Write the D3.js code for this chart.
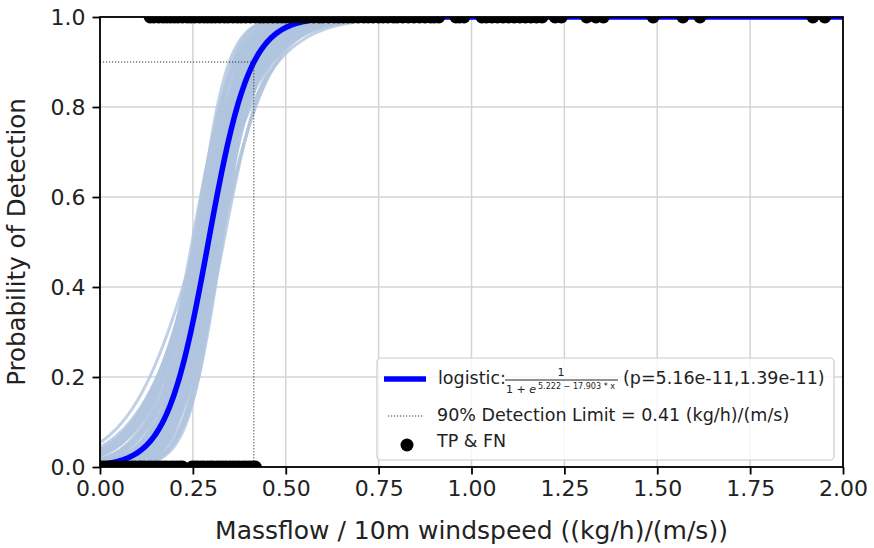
<!DOCTYPE html>
<html>
<head>
<meta charset="utf-8">
<script src="https://cdn.jsdelivr.net/npm/d3@7"></script>
<style>
  body { margin: 0; background: #fff; }
  text { font-family: "DejaVu Sans", sans-serif; fill: #222; }
</style>
</head>
<body>
<div id="chart"></div>
<script>
// fitted logistic: p = 1 / (1 + exp(a - b*x))
const fitA = 5.222;
const fitB = 17.903;
const detectLimit = 0.414;
const detectLevel = 0.9;

// bootstrap fits (intercept, slope)
const bootA = [4.08, 3.41, 5.36, 4.08, 6.07, 3.35, 5.08, 6.84, 4.02, 5.49, 4.95, 6.13,
  4.70, 7.40, 3.54, 5.40, 6.04, 4.58, 7.08, 5.29, 5.99, 4.48, 6.85, 7.02, 3.08, 6.67,
  3.24, 8.06, 4.83, 5.62, 4.46, 5.66, 6.10, 7.63, 4.68,
  5.42, 4.49, 3.72, 5.15, 6.58, 3.60, 5.90, 4.25, 5.72, 7.49, 3.54, 6.49, 4.75, 7.18,
  4.52, 6.67, 5.51, 3.64, 6.55, 5.02, 6.34, 5.80, 4.88, 7.24, 5.04, 6.50, 3.23, 7.51,
  2.86, 8.21, 3.30, 8.03];
const bootB = [16, 13, 20, 15, 22, 12, 18, 24, 14, 19, 17, 21,
  16, 25, 13, 18, 20, 15, 23, 17, 19, 14, 21, 26, 11, 23,
  12, 26, 17, 19, 18, 17, 23, 24, 17,
  21, 17, 14, 19, 24, 13, 21, 15, 20, 26, 13, 22, 16, 24,
  15, 22, 18, 13, 21, 16, 20, 18, 15, 22, 20, 25, 12, 27,
  11, 27, 12, 25];

// detections (TP, y = 1) and misses (FN, y = 0)
const tpX = [0.135, 0.145, 0.158, 0.17, 0.18, 0.19, 0.2, 0.21, 0.222, 0.235, 0.245, 0.255,
  0.268, 0.28, 0.29, 0.3, 0.31, 0.322, 0.335, 0.345, 0.358, 0.37, 0.38, 0.392, 0.405,
  0.418, 0.43, 0.44, 0.452, 0.465, 0.478, 0.49, 0.5, 0.512, 0.525, 0.538, 0.55, 0.562,
  0.575, 0.59, 0.6, 0.615, 0.63, 0.642, 0.655, 0.668, 0.68, 0.695, 0.71, 0.722, 0.735,
  0.75, 0.762, 0.775, 0.79, 0.8, 0.815, 0.83, 0.845, 0.86, 0.875, 0.89, 0.9, 0.912,
  0.958, 0.968, 0.98, 1.028, 1.04, 1.055, 1.07, 1.085, 1.1, 1.115, 1.13, 1.145, 1.16,
  1.175, 1.19, 1.225, 1.242, 1.31, 1.335, 1.355, 1.489, 1.569, 1.615, 1.919, 1.951];
const fnX = [0.005, 0.012, 0.02, 0.03, 0.038, 0.045, 0.055, 0.062, 0.07, 0.08, 0.088,
  0.095, 0.105, 0.112, 0.12, 0.13, 0.138, 0.147, 0.155, 0.163, 0.172, 0.18, 0.19, 0.198,
  0.207, 0.215, 0.222, 0.248, 0.255, 0.263, 0.272, 0.28, 0.29, 0.298, 0.305, 0.315,
  0.323, 0.332, 0.34, 0.35, 0.358, 0.367, 0.375, 0.385, 0.393, 0.402, 0.41, 0.418];

const xTicks = [0, 0.25, 0.5, 0.75, 1, 1.25, 1.5, 1.75, 2];
const yTicks = [0, 0.2, 0.4, 0.6, 0.8, 1.0];

const width = 874, height = 548;
const plotL = 100, plotR = 843, plotT = 17, plotB = 467;

const svg = d3.select("#chart").append("svg")
  .attr("width", width)
  .attr("height", height);

const x = d3.scaleLinear().domain([0, 2]).range([plotL, plotR]);
const y = d3.scaleLinear().domain([0, 1]).range([plotB, plotT]);

svg.append("clipPath").attr("id", "plotclip")
  .append("rect")
  .attr("x", plotL).attr("y", plotT)
  .attr("width", plotR - plotL).attr("height", plotB - plotT);

// grid
svg.append("g").selectAll("line").data(xTicks).enter().append("line")
  .attr("x1", d => x(d)).attr("x2", d => x(d))
  .attr("y1", plotT).attr("y2", plotB)
  .attr("stroke", "#d4d4d4").attr("stroke-width", 1.5);
svg.append("g").selectAll("line").data(yTicks).enter().append("line")
  .attr("x1", plotL).attr("x2", plotR)
  .attr("y1", d => y(d)).attr("y2", d => y(d))
  .attr("stroke", "#d4d4d4").attr("stroke-width", 1.5);

const plot = svg.append("g").attr("clip-path", "url(#plotclip)");

const xs = d3.range(0, 2.0001, 0.004);
const logistic = (a, b) => d3.line()
  .x(d => x(d))
  .y(d => y(1 / (1 + Math.exp(a - b * d))));

// bootstrap curves
plot.append("g").selectAll("path").data(bootA).enter().append("path")
  .attr("d", (a, i) => logistic(a, bootB[i])(xs))
  .attr("fill", "none")
  .attr("stroke", "#b0c4de")
  .attr("stroke-width", 3)
  .attr("stroke-opacity", 0.8);

// main fit
plot.append("path")
  .attr("d", logistic(fitA, fitB)(xs))
  .attr("fill", "none")
  .attr("stroke", "#0000ff")
  .attr("stroke-width", 5.5);

// 90% detection limit
plot.append("path")
  .attr("d", `M${x(0)},${y(detectLevel)}H${x(detectLimit)}V${y(0)}`)
  .attr("fill", "none")
  .attr("stroke", "#333")
  .attr("stroke-width", 1)
  .attr("stroke-dasharray", "1.2,1.8");

// points
plot.append("g").selectAll("circle").data(tpX).enter().append("circle")
  .attr("cx", d => x(d)).attr("cy", y(1)).attr("r", 6.5).attr("fill", "#000");
plot.append("g").selectAll("circle").data(fnX).enter().append("circle")
  .attr("cx", d => x(d)).attr("cy", y(0)).attr("r", 6.5).attr("fill", "#000");

// frame
svg.append("rect")
  .attr("x", plotL).attr("y", plotT)
  .attr("width", plotR - plotL).attr("height", plotB - plotT)
  .attr("fill", "none").attr("stroke", "#000").attr("stroke-width", 1.8);

// axes
const xAxis = svg.append("g").attr("transform", `translate(0,${plotB})`)
  .call(d3.axisBottom(x).tickValues(xTicks).tickFormat(d3.format(".2f"))
    .tickSize(7.5).tickPadding(6));
const yAxis = svg.append("g").attr("transform", `translate(${plotL},0)`)
  .call(d3.axisLeft(y).tickValues(yTicks).tickFormat(d3.format(".1f"))
    .tickSize(7.5).tickPadding(7));
[xAxis, yAxis].forEach(g => {
  g.select(".domain").remove();
  g.selectAll(".tick line").attr("stroke", "#000").attr("stroke-width", 1.8);
  g.selectAll(".tick text").attr("font-size", 22)
    .attr("font-family", "DejaVu Sans").attr("fill", "#222");
});

svg.append("text")
  .attr("x", (plotL + plotR) / 2).attr("y", 539)
  .attr("text-anchor", "middle").attr("font-size", 25)
  .text("Massflow / 10m windspeed ((kg/h)/(m/s))");
svg.append("text")
  .attr("transform", `translate(25,${(plotT + plotB) / 2}) rotate(-90)`)
  .attr("text-anchor", "middle").attr("font-size", 24.5)
  .text("Probability of Detection");

// legend
const lg = svg.append("g");
lg.append("rect")
  .attr("x", 377).attr("y", 358).attr("width", 457).attr("height", 102)
  .attr("rx", 4)
  .attr("fill", "#fff").attr("fill-opacity", 0.8)
  .attr("stroke", "#cccccc").attr("stroke-width", 1.2);

lg.append("line")
  .attr("x1", 384).attr("x2", 426).attr("y1", 379).attr("y2", 379)
  .attr("stroke", "#0000ff").attr("stroke-width", 5.5);
lg.append("text").attr("x", 438).attr("y", 384).attr("font-size", 17.5).text("logistic:");
lg.append("text").attr("x", 561).attr("y", 376).attr("font-size", 11)
  .attr("text-anchor", "middle").text("1");
lg.append("line")
  .attr("x1", 505).attr("x2", 618).attr("y1", 380).attr("y2", 380)
  .attr("stroke", "#222").attr("stroke-width", 1);
const den = lg.append("text").attr("x", 506).attr("y", 393).attr("font-size", 11);
den.append("tspan").text("1 + ");
den.append("tspan").attr("font-style", "italic").text("e");
lg.append("text").attr("x", 538).attr("y", 389).attr("font-size", 8.5)
  .attr("textLength", 77).attr("lengthAdjust", "spacingAndGlyphs")
  .text("5.222 \u2212 17.903 * x");
lg.append("text").attr("x", 623).attr("y", 384).attr("font-size", 17.5)
  .text("(p=5.16e-11,1.39e-11)");

lg.append("line")
  .attr("x1", 388).attr("x2", 423).attr("y1", 416).attr("y2", 416)
  .attr("stroke", "#333").attr("stroke-width", 1)
  .attr("stroke-dasharray", "1.2,1.8");
lg.append("text").attr("x", 437).attr("y", 421).attr("font-size", 17.5)
  .text("90% Detection Limit = 0.41 (kg/h)/(m/s)");

lg.append("circle").attr("cx", 407).attr("cy", 445).attr("r", 6.5).attr("fill", "#000");
lg.append("text").attr("x", 437).attr("y", 447).attr("font-size", 17.5).text("TP & FN");
</script>
</body>
</html>
